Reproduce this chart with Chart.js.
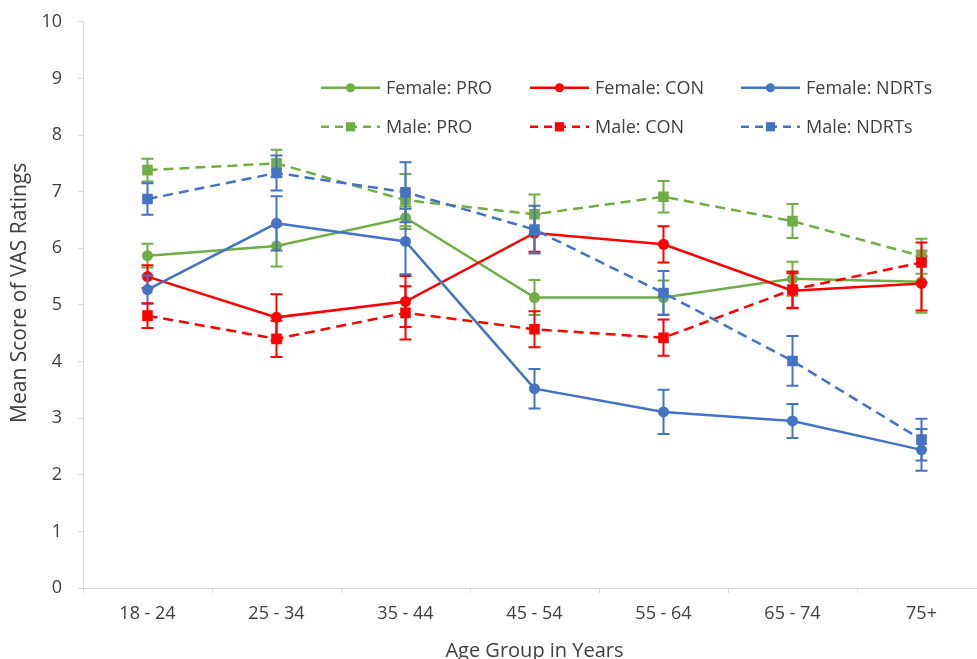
<!DOCTYPE html>
<html>
<head>
<meta charset="utf-8">
<title>Mean VAS ratings by age group</title>
<script src="https://cdn.jsdelivr.net/npm/chart.js@4.4.1/dist/chart.umd.min.js"></script>
<style>
  html, body { margin: 0; padding: 0; background: #ffffff; overflow: hidden; }
  #wrap { position: relative; top: -5px; width: 1000px; height: 685px; }
</style>
</head>
<body>
<div id="wrap"><canvas id="chart"></canvas></div>
<script>
// Age groups on the x axis
const ageGroups = ['18 - 24', '25 - 34', '35 - 44', '45 - 54', '55 - 64', '65 - 74', '75+'];
const yTicks = [0, 1, 2, 3, 4, 5, 6, 7, 8, 9, 10];

// Mean VAS scores and their error margins, per sex and condition
const femalePro     = [5.87, 6.04, 6.54, 5.13, 5.13, 5.46, 5.41];
const femaleProErr  = [0.21, 0.36, 0.20, 0.31, 0.30, 0.30, 0.55];
const femaleCon     = [5.50, 4.78, 5.06, 6.27, 6.07, 5.25, 5.38];
const femaleConErr  = [0.20, 0.41, 0.45, 0.33, 0.32, 0.31, 0.48];
const femaleNdrt    = [5.27, 6.44, 6.12, 3.52, 3.11, 2.95, 2.44];
const femaleNdrtErr = [0.25, 0.48, 0.58, 0.35, 0.39, 0.30, 0.37];
const malePro       = [7.38, 7.50, 6.85, 6.60, 6.91, 6.48, 5.86];
const maleProErr    = [0.20, 0.24, 0.46, 0.35, 0.28, 0.30, 0.31];
const maleCon       = [4.81, 4.40, 4.86, 4.57, 4.42, 5.27, 5.75];
const maleConErr    = [0.22, 0.32, 0.47, 0.32, 0.32, 0.32, 0.35];
const maleNdrt      = [6.87, 7.33, 6.99, 6.33, 5.21, 4.01, 2.62];
const maleNdrtErr   = [0.28, 0.31, 0.53, 0.42, 0.39, 0.44, 0.37];

const seriesLabels = ['Female: PRO', 'Female: CON', 'Female: NDRTs', 'Male: PRO', 'Male: CON', 'Male: NDRTs'];
const yTitle = 'Mean Score of VAS Ratings';
const xTitle = 'Age Group in Years';

const FONT = "'Open Sans', 'Liberation Sans', sans-serif";
const TEXT = '#404040';
const AXIS = '#d9d9d9';
const GREEN = '#70ad47', RED = '#ff0000', BLUE = '#4472c4';
const DASH = [10, 6];

function makeSet(i, data, errors, color, dashed) {
  return {
    label: seriesLabels[i],
    data: data,
    errors: errors,
    borderColor: color,
    backgroundColor: color,
    borderWidth: 2.5,
    borderDash: dashed ? DASH : [],
    pointStyle: dashed ? 'rect' : 'circle',
    pointRadius: dashed ? 7.5 : 5.5,
    pointBorderWidth: 0,
    pointBackgroundColor: color,
    tension: 0,
    fill: false,
    order: 5 - i
  };
}

const datasets = [
  makeSet(0, femalePro, femaleProErr, GREEN, false),
  makeSet(1, femaleCon, femaleConErr, RED, false),
  makeSet(2, femaleNdrt, femaleNdrtErr, BLUE, false),
  makeSet(3, malePro, maleProErr, GREEN, true),
  makeSet(4, maleCon, maleConErr, RED, true),
  makeSet(5, maleNdrt, maleNdrtErr, BLUE, true)
];

// Vertical error bars with caps, drawn just under each series
const errorBars = {
  id: 'errorBars',
  beforeDatasetDraw(chart, args) {
    const ds = chart.data.datasets[args.index];
    if (!ds.errors) return;
    const ys = chart.scales.y;
    const ctx = chart.ctx;
    ctx.save();
    ctx.strokeStyle = ds.borderColor;
    ctx.lineWidth = 2;
    ctx.setLineDash([]);
    args.meta.data.forEach((pt, k) => {
      const v = ds.data[k], e = ds.errors[k];
      const yt = ys.getPixelForValue(v + e);
      const yb = ys.getPixelForValue(v - e);
      const x = pt.x, cap = 6;
      ctx.beginPath();
      ctx.moveTo(x, yt); ctx.lineTo(x, yb);
      ctx.moveTo(x - cap, yt); ctx.lineTo(x + cap, yt);
      ctx.moveTo(x - cap, yb); ctx.lineTo(x + cap, yb);
      ctx.stroke();
    });
    ctx.restore();
  }
};

// Legend laid out as a 3 x 2 grid inside the plot area, plus the rotated y-axis title
const gridLegend = {
  id: 'gridLegend',
  afterDraw(chart) {
    const ctx = chart.ctx;
    const area = chart.chartArea;
    const colX = [238, 447, 658];
    const rowY = [66, 105];
    const sample = 59;
    chart.data.datasets.forEach((ds, i) => {
      const x0 = area.left + colX[i % 3];
      const y0 = area.top + rowY[Math.floor(i / 3)];
      ctx.save();
      ctx.strokeStyle = ds.borderColor;
      ctx.lineWidth = 2.5;
      ctx.setLineDash(ds.borderDash.length ? [8, 6] : []);
      ctx.beginPath();
      ctx.moveTo(x0, y0);
      ctx.lineTo(x0 + sample, y0);
      ctx.stroke();
      ctx.setLineDash([]);
      ctx.fillStyle = ds.borderColor;
      Chart.helpers.drawPoint(ctx, {
        pointStyle: ds.pointStyle,
        radius: ds.pointStyle === 'rect' ? 6.5 : 4.5,
        rotation: 0,
        borderWidth: 0
      }, x0 + sample / 2, y0);
      ctx.fillStyle = TEXT;
      ctx.font = '18px ' + FONT;
      ctx.textAlign = 'left';
      ctx.textBaseline = 'middle';
      ctx.fillText(ds.label, x0 + sample + 6, y0 + 1);
      ctx.restore();
    });

    ctx.save();
    ctx.translate(20, area.top + 271);
    ctx.rotate(-Math.PI / 2);
    ctx.fillStyle = TEXT;
    ctx.font = '21px ' + FONT;
    ctx.textAlign = 'center';
    ctx.textBaseline = 'middle';
    ctx.fillText(yTitle, 0, 0);
    ctx.restore();
  }
};

new Chart(document.getElementById('chart'), {
  type: 'line',
  data: { labels: ageGroups, datasets: datasets },
  plugins: [errorBars, gridLegend],
  options: {
    responsive: true,
    maintainAspectRatio: false,
    animation: false,
    devicePixelRatio: 1,
    events: [],
    layout: { padding: { left: 0, right: 14, top: 14, bottom: 0 } },
    plugins: { legend: { display: false }, tooltip: { enabled: false } },
    scales: {
      x: {
        type: 'category',
        offset: true,
        grid: { offset: true, drawOnChartArea: false, drawTicks: true, tickLength: 5, color: AXIS },
        border: { color: AXIS, width: 1 },
        ticks: { color: TEXT, padding: 10, font: { family: FONT, size: 18 }, maxRotation: 0 },
        title: { display: true, text: xTitle, color: TEXT,
                 font: { family: FONT, size: 20 }, padding: { top: 0, bottom: 17 } },
        afterFit(scale) { scale.height = 92; }
      },
      y: {
        min: yTicks[0],
        max: yTicks[yTicks.length - 1],
        afterBuildTicks(scale) { scale.ticks = yTicks.map(v => ({ value: v })); },
        grid: { drawOnChartArea: false, drawTicks: true, tickLength: 5, color: AXIS },
        border: { color: AXIS, width: 1 },
        ticks: { color: TEXT, padding: 16, font: { family: FONT, size: 18 } },
        afterFit(scale) { scale.width = 83; }
      }
    }
  }
});
</script>
</body>
</html>
